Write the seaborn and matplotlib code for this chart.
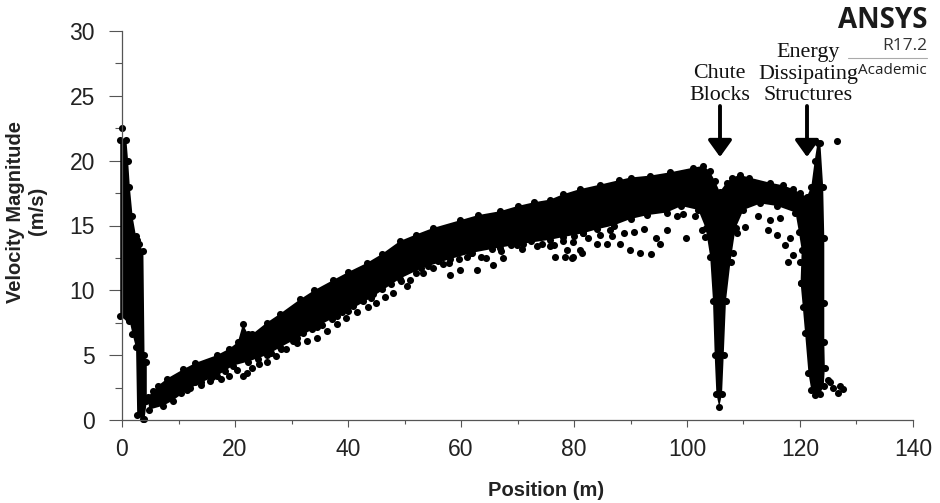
import pandas as pd
import matplotlib.pyplot as plt
from matplotlib.ticker import MultipleLocator
import seaborn as sns

W, H = 940, 503

# solid part of the scatter
band_top_x = [4.6, 5.5, 6.4, 8, 10.8, 13, 16.8, 19, 20.5, 21.4, 22.3, 23, 25.6, 28, 31.5, 34, 37.4, 40, 43.3, 46, 49.2, 52, 55, 59.8, 63, 66.9, 70, 73, 75.8, 78, 81, 84.6, 88, 90, 93.5, 97, 101, 102.9, 104, 105, 105.8, 107, 108, 109.4, 111, 114.7, 117, 118.8, 120, 121.2, 122, 122.6, 123.1, 123.6, 124.1]
band_top_y = [1.8, 2.2, 2.65, 3.2, 3.9, 4.4, 5.0, 5.5, 6.0, 7.4, 6.6, 6.6, 7.5, 8.2, 9.3, 10.0, 10.8, 11.4, 12.1, 12.8, 13.8, 14.3, 14.8, 15.4, 15.8, 16.1, 16.5, 16.8, 17.0, 17.4, 17.8, 18.15, 18.5, 18.7, 18.85, 19.1, 19.45, 19.6, 19.2, 18.4, 17.6, 18.3, 18.7, 18.9, 18.7, 18.3, 18.1, 17.8, 17.5, 17.2, 18.0, 20.0, 21.4, 21.4, 18.0]
band_low_x = [124.3, 124.3, 124.3, 124.4, 124.2, 123.5, 122.7, 122.0, 121.5, 120.9, 120.5, 120.1, 120.3, 119.8, 119.2, 116, 113, 110, 108.6, 107.7, 106.9, 106.5, 106.2, 105.7, 105.2, 104.9, 104.6, 104.1, 103.3, 102, 99, 96.4, 93, 90, 87, 84, 81.6, 78, 75.8, 71, 66.9, 62, 58, 53, 49.2, 44, 40, 38, 34.5, 31, 28, 25.6, 22.3, 19.7, 16.8, 14, 11.5, 9, 7.3, 4.8]
band_low_y = [14, 9, 6, 4.0, 2.6, 2.0, 1.9, 2.3, 3.6, 6.7, 8.7, 10.6, 13.1, 14.5, 16.0, 16.5, 16.7, 16.2, 14.8, 12.2, 9.2, 5.0, 2.0, 1.0, 2.0, 5.0, 9.2, 12.6, 14.8, 16.2, 16.5, 16.0, 15.8, 15.5, 15.0, 14.7, 14.4, 14.1, 13.9, 13.6, 13.3, 12.9, 12.4, 11.7, 10.9, 9.4, 8.4, 8.0, 7.2, 6.3, 5.6, 5.0, 4.5, 4.2, 3.4, 2.9, 2.3, 1.5, 1.1, 0.8]

# spike and column at the inlet
inlet_x = [-0.4, 0.7, 1.0, 1.3, 1.8, 2.4, 2.6, 3.7, 3.9, 4.3]
inlet_hi = [21.6, 21.6, 20.0, 18.0, 15.7, 14.2, 13.9, 13.0, 5.0, 4.5]
inlet_lo = [8.0, 8.0, 7.9, 7.6, 6.6, 5.6, 0.4, 0.05, 0.1, 1.5]

# dots standing clear of the solid part
stray_x = [0, 3.0, 126.5, 125.3, 125.9, 126.7, 127.6, 125.0, 127.1,
           10.5, 12, 14, 15.5, 17.5, 19, 20.3, 21.5, 22.2, 23, 24.2, 25.6, 27.2, 29, 31, 32.8, 34.5, 36.2, 38, 39.6, 41.6, 43.5, 45, 46.5, 48,
           50.4, 51, 53.3, 55.1, 56.9, 58, 59.8, 61, 62.8, 64.5, 65.7, 67.5, 69.9, 73.4, 75.8, 76.6, 78.4, 79.6, 81.4, 78.7, 79.9, 81, 78.7, 79.9, 81.6,
           84, 86.4, 88.1, 89.9, 91.7, 93.7, 95.2, 94.6, 96.4, 99.8, 98.2, 99.3, 101.4, 102.6, 103.2, 102, 100.2, 85.8,
           108.2, 108.8, 110.2, 112.6, 114.7, 116.4, 114.4, 115.9, 118.2, 117.3, 118.8, 117.9, 120, 120.2,
           13, 16, 18.3, 24, 26.4, 28.2, 30.2, 32, 33.6, 35.4, 37.2, 39, 40.8, 42.6, 44.4, 46, 47.6, 49.4,
           52, 54.2, 56, 57.8, 59.6, 61.8, 63.6, 65.4, 67, 68.8, 70.8, 72.4, 74.4, 76.4, 78, 80, 82.4, 84.6, 86.8, 88.8, 90.6, 92.4]
stray_y = [22.5, 13.6, 21.5, 2.9, 2.5, 2.1, 2.4, 3.1, 2.6,
           2.1, 2.5, 2.7, 3.0, 3.2, 3.4, 3.85, 3.4, 3.6, 4.0, 4.3, 4.5, 4.9, 5.5, 5.9, 6.1, 6.3, 6.9, 7.4, 7.9, 8.3, 8.7, 9.0, 9.5, 9.8,
           10.3, 10.8, 11.3, 11.7, 12.0, 11.2, 11.6, 12.6, 11.6, 12.5, 11.95, 12.5, 13.5, 13.4, 13.4, 12.6, 12.6, 12.5, 12.85, 14.65, 13.75, 13.1, 13.1, 12.6, 14.4,
           13.6, 14.65, 13.6, 13.1, 12.85, 12.8, 13.6, 14.0, 14.65, 14.06, 15.7, 15.9, 15.7, 14.65, 14.1, 16.8, 17.6, 13.6,
           12.9, 14.4, 14.9, 15.7, 15.4, 15.55, 14.65, 14.3, 14.0, 13.5, 12.7, 12.2, 12.2, 10.6,
           2.9, 3.3, 3.8, 4.7, 5.2, 5.5, 6.1, 6.7, 7.0, 7.3, 7.8, 8.3, 8.8, 9.2, 9.7, 10.1, 10.5, 10.7,
           11.3, 11.9, 12.3, 12.1, 12.4, 12.9, 12.6, 13.2, 13.0, 13.5, 13.2, 13.8, 13.6, 13.5, 13.8, 14.2, 14.0, 14.3, 14.2, 14.4, 14.5, 14.7]

x_ticks = [0, 20, 40, 60, 80, 100, 120, 140]
y_ticks = [0, 5, 10, 15, 20, 25, 30]

sns.set_theme(style="ticks")
plt.rcParams['font.family'] = ['Liberation Sans', 'DejaVu Sans']
AXIS = '#555555'


def px(x, y):
    # pixel position in the reference to figure fraction
    return x / W, 1 - y / H


fig = plt.figure(figsize=(W / 100, H / 100), dpi=100)
ax = fig.add_axes([122 / W, (H - 420) / H, (913 - 122) / W, (420 - 31) / H])

# outline of the dense cloud
ax.fill_between(inlet_x, inlet_lo, inlet_hi, color='black', lw=0, clip_on=False)
ax.fill(band_top_x + band_low_x, band_top_y + band_low_y, color='black', lw=0, clip_on=False)

dots = pd.concat([
    pd.DataFrame({'Position': band_top_x, 'Velocity': band_top_y}),
    pd.DataFrame({'Position': band_low_x, 'Velocity': band_low_y}),
    pd.DataFrame({'Position': inlet_x, 'Velocity': inlet_hi}),
    pd.DataFrame({'Position': inlet_x, 'Velocity': inlet_lo}),
    pd.DataFrame({'Position': stray_x, 'Velocity': stray_y}),
], ignore_index=True)
sns.scatterplot(data=dots, x='Position', y='Velocity', color='black', s=26, linewidth=0, clip_on=False, ax=ax)

ax.set_xlim(0, 140)
ax.set_ylim(0, 30)
ax.set_xticks(x_ticks)
ax.set_yticks(y_ticks)
ax.set_xlabel('')
ax.set_ylabel('')
ax.xaxis.set_minor_locator(MultipleLocator(10))
ax.yaxis.set_minor_locator(MultipleLocator(2.5))
ax.tick_params(axis='x', which='major', length=5, width=0.8, color=AXIS, labelsize=16.5, pad=8, labelcolor='#222222')
ax.tick_params(axis='x', which='minor', length=3, width=0.8, color=AXIS)
ax.tick_params(axis='y', which='major', length=9.5, width=0.8, color=AXIS, labelsize=16.5, pad=10, labelcolor='#222222')
ax.tick_params(axis='y', which='minor', length=5, width=0.8, color=AXIS)
sns.despine(ax=ax)
for side in ['left', 'bottom']:
    ax.spines[side].set_color(AXIS)
    ax.spines[side].set_linewidth(0.9)

fig.text(*px(546, 490), 'Position (m)', ha='center', va='center', fontsize=14.5, fontweight='bold', color='#222222')
fig.text(*px(16, 212), 'Velocity Magnitude', rotation=90, ha='center', va='center', fontsize=14.5, fontweight='bold', color='#222222')
fig.text(*px(38, 211), '(m/s)', rotation=90, ha='center', va='center', fontsize=14.5, fontweight='bold', color='#222222')

# hand placed notes
for cx, cy, label in [(719, 74, 'Chute'), (720, 95, 'Blocks'), (808, 52, 'Energy'),
                      (808, 74, 'Dissipating'), (808, 95, 'Structures')]:
    fig.text(*px(cx, cy), label, ha='center', va='center', fontsize=15.8, family='Liberation Serif', color='#111111')
for cx in [720, 807]:
    ax.annotate('', xy=px(cx, 157), xytext=px(cx, 106), xycoords='figure fraction', textcoords='figure fraction',
                arrowprops=dict(arrowstyle='-|>,head_length=0.5,head_width=0.36', mutation_scale=20, color='black', lw=2.8, shrinkA=0, shrinkB=0))

# solver watermark
fig.text(*px(927, 21), 'ANSYS', ha='right', va='center', fontsize=20, fontweight='bold', family='Open Sans', color='#1a1a1a')
fig.text(*px(927, 46), 'R17.2', ha='right', va='center', fontsize=12.5, family='Open Sans', color='#333333')
fig.text(*px(927, 70), 'Academic', ha='right', va='center', fontsize=11, family='Open Sans', color='#222222')
fig.add_artist(plt.Line2D([848 / W, 927 / W], [1 - 58 / H, 1 - 58 / H], color='#aaaaaa', lw=0.8))

fig.savefig('out.png', dpi=100, facecolor='white')
